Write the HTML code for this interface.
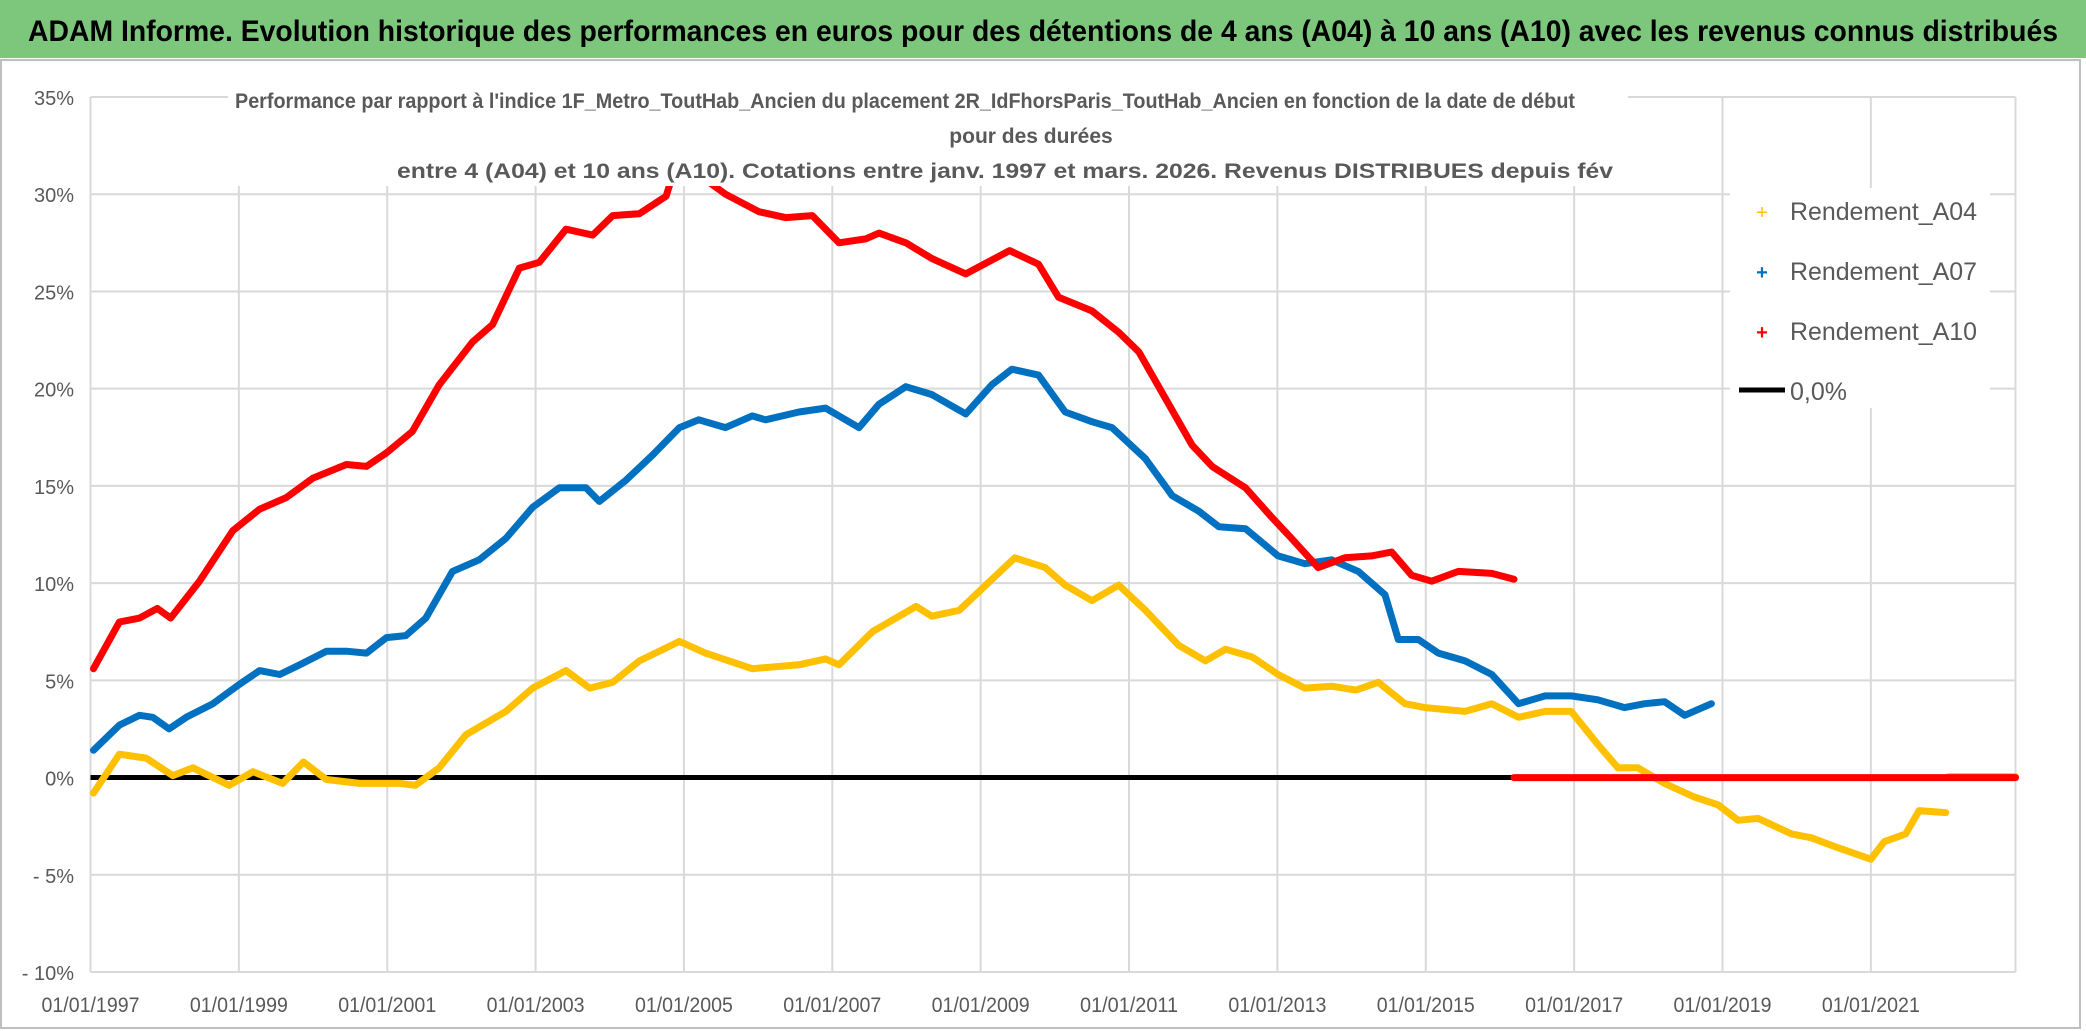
<!DOCTYPE html>
<html><head><meta charset="utf-8"><style>
html,body{margin:0;padding:0;background:#fff;}
svg{display:block;font-family:"Liberation Sans",sans-serif;}
</style></head><body>
<svg id="chart" width="2086" height="1031" viewBox="0 0 2086 1031">
<rect x="0" y="0" width="2086" height="1031" fill="#fff"/>
<rect x="1" y="60" width="2079" height="968" fill="none" stroke="#bfbfbf" stroke-width="2"/>
<rect x="0" y="0" width="2086" height="58" fill="#7dc77d"/>
<text x="1043" y="41" text-anchor="middle" font-size="30" font-weight="bold" fill="#000" textLength="2030" lengthAdjust="spacingAndGlyphs">ADAM Informe. Evolution historique des performances en euros pour des détentions de 4 ans (A04) à 10 ans (A10) avec les revenus connus distribués</text>
<g id="grid"></g>
<g id="series"></g>
<rect x="228" y="78" width="1400" height="108" fill="#fff"/>
<g fill="#595959" font-size="21" font-weight="bold" text-anchor="middle">
<text x="905" y="108" textLength="1340" lengthAdjust="spacingAndGlyphs">Performance par rapport à l'indice 1F_Metro_ToutHab_Ancien  du placement 2R_IdFhorsParis_ToutHab_Ancien en fonction de la date de début</text>
<text x="1031" y="143">pour des durées</text>
<text x="1005" y="178" textLength="1216" lengthAdjust="spacingAndGlyphs">entre 4 (A04) et 10 ans (A10). Cotations entre janv. 1997 et mars. 2026. Revenus DISTRIBUES depuis fév</text>
</g>
<g id="axes"></g>
<g font-size="25" fill="#595959">
<rect x="1730" y="188" width="260" height="220" fill="#fff"/>
<g><text x="1762" y="219" fill="#ffc000" font-size="20" text-anchor="middle">+</text><text x="1790" y="220" textLength="187" lengthAdjust="spacingAndGlyphs">Rendement_A04</text></g>
<g><text x="1762" y="279" fill="#0070c0" font-size="20" font-weight="bold" text-anchor="middle">+</text><text x="1790" y="280" textLength="187" lengthAdjust="spacingAndGlyphs">Rendement_A07</text></g>
<g><text x="1762" y="339" fill="#ff0000" font-size="20" font-weight="bold" text-anchor="middle">+</text><text x="1790" y="340" textLength="187" lengthAdjust="spacingAndGlyphs">Rendement_A10</text></g>
<g><line x1="1739" y1="390" x2="1785" y2="390" stroke="#000" stroke-width="5"/><text x="1790" y="400">0,0%</text></g>
</g>
</svg>
<script>
const yTicks = [35, 30, 25, 20, 15, 10, 5, 0, -5, -10];
const yTickLabels = ["35%", "30%", "25%", "20%", "15%", "10%", "5%", "0%", "- 5%", "- 10%"];
const xTicks = [1997, 1999, 2001, 2003, 2005, 2007, 2009, 2011, 2013, 2015, 2017, 2019, 2021];
const xTickLabels = ["01/01/1997","01/01/1999","01/01/2001","01/01/2003","01/01/2005","01/01/2007","01/01/2009","01/01/2011","01/01/2013","01/01/2015","01/01/2017","01/01/2019","01/01/2021"];
const xDomain = [1997, 2022.95];
const yDomain = [-10, 35];

const a04Dates = [1997.04,1997.39,1997.75,1998.11,1998.38,1998.87,1999.19,1999.59,1999.87,2000.18,2000.63,2001.17,2001.38,2001.70,2002.06,2002.60,2002.96,2003.41,2003.73,2004.04,2004.40,2004.94,2005.29,2005.92,2006.55,2006.91,2007.09,2007.54,2008.13,2008.34,2008.71,2009.07,2009.46,2009.87,2010.14,2010.50,2010.86,2011.22,2011.67,2012.03,2012.30,2012.66,2013.01,2013.37,2013.73,2014.06,2014.36,2014.72,2014.99,2015.53,2015.89,2016.25,2016.61,2016.96,2017.32,2017.59,2017.86,2018.22,2018.62,2018.94,2019.21,2019.48,2019.93,2020.20,2020.55,2021.00,2021.18,2021.47,2021.65,2022.01];
const a04Values = [-0.8,1.2,1.0,0.1,0.5,-0.4,0.3,-0.3,0.8,-0.1,-0.3,-0.3,-0.4,0.5,2.2,3.4,4.6,5.5,4.6,4.9,6.0,7.0,6.4,5.6,5.8,6.1,5.8,7.5,8.8,8.3,8.6,9.9,11.3,10.8,9.9,9.1,9.9,8.6,6.8,6.0,6.6,6.2,5.3,4.6,4.7,4.5,4.9,3.8,3.6,3.4,3.8,3.1,3.4,3.4,1.7,0.5,0.5,-0.3,-1.0,-1.4,-2.2,-2.1,-2.9,-3.1,-3.6,-4.2,-3.3,-2.9,-1.7,-1.8];
const a04TailDates = [2022.05, 2022.95];
const a04TailValues = [0.05, 0.05];

const a07Dates = [1997.04,1997.39,1997.66,1997.84,1998.06,1998.29,1998.65,1999.01,1999.28,1999.55,1999.82,2000.18,2000.45,2000.72,2000.99,2001.25,2001.52,2001.88,2002.24,2002.60,2002.96,2003.32,2003.68,2003.86,2004.22,2004.58,2004.94,2005.20,2005.56,2005.92,2006.10,2006.55,2006.91,2007.36,2007.63,2007.99,2008.34,2008.80,2009.15,2009.42,2009.78,2010.14,2010.50,2010.77,2011.22,2011.58,2011.94,2012.21,2012.57,2013.01,2013.37,2013.73,2014.09,2014.45,2014.63,2014.90,2015.17,2015.53,2015.89,2016.25,2016.61,2016.96,2017.32,2017.68,2017.95,2018.22,2018.49,2018.85];
const a07Values = [1.4,2.7,3.2,3.1,2.5,3.1,3.8,4.8,5.5,5.3,5.8,6.5,6.5,6.4,7.2,7.3,8.2,10.6,11.2,12.3,13.9,14.9,14.9,14.2,15.3,16.6,18.0,18.4,18.0,18.6,18.4,18.8,19.0,18.0,19.2,20.1,19.7,18.7,20.2,21.0,20.7,18.8,18.3,18.0,16.4,14.5,13.7,12.9,12.8,11.4,11.0,11.2,10.6,9.4,7.1,7.1,6.4,6.0,5.3,3.8,4.2,4.2,4.0,3.6,3.8,3.9,3.2,3.8];

const a10Dates = [1997.04,1997.39,1997.66,1997.90,1998.08,1998.47,1998.92,1999.28,1999.64,2000.00,2000.45,2000.72,2000.99,2001.34,2001.70,2002.15,2002.42,2002.78,2003.05,2003.41,2003.77,2004.04,2004.40,2004.76,2004.85,2005.20,2005.56,2006.01,2006.37,2006.73,2007.09,2007.45,2007.63,2007.99,2008.34,2008.80,2009.39,2009.78,2010.05,2010.50,2010.86,2011.13,2011.49,2011.85,2012.12,2012.57,2012.92,2013.19,2013.55,2013.91,2014.27,2014.54,2014.81,2015.08,2015.44,2015.89,2016.19];
const a10Values = [5.6,8.0,8.2,8.7,8.2,10.1,12.7,13.8,14.4,15.4,16.1,16.0,16.7,17.8,20.2,22.4,23.3,26.2,26.5,28.2,27.9,28.9,29.0,29.9,31.0,31.0,30.0,29.1,28.8,28.9,27.5,27.7,28.0,27.5,26.7,25.9,27.1,26.4,24.7,24.0,22.9,21.9,19.5,17.1,16.0,14.9,13.4,12.3,10.8,11.3,11.4,11.6,10.4,10.1,10.6,10.5,10.2];
const a10TailDates = [2016.19, 2022.95];
const a10TailValues = [0, 0];

const NS = "http://www.w3.org/2000/svg";
const X0 = 90.5, X1 = 2015.5, Y0 = 972, Y1 = 97;
function xScale(d){ return X0 + (d - xDomain[0]) / (xDomain[1] - xDomain[0]) * (X1 - X0); }
function yScale(v){ return Y0 - (v - yDomain[0]) / (yDomain[1] - yDomain[0]) * (Y0 - Y1); }
function mk(tag, attrs, parent){ const e = document.createElementNS(NS, tag); for (const k in attrs) e.setAttribute(k, attrs[k]); parent.appendChild(e); return e; }

const grid = document.getElementById('grid');
const axes = document.getElementById('axes');
const series = document.getElementById('series');

yTicks.forEach((t, i) => {
  const y = yScale(t);
  const l = mk('line', {x1: X0, x2: X1, y1: y, y2: y, stroke: '#d9d9d9', 'stroke-width': 2}, grid);
  
  
  const tx = mk('text', {x: 74, y: y + 8, 'text-anchor': 'end', 'font-size': 20, fill: '#595959'}, axes);
  tx.textContent = yTickLabels[i];
  
  
});
xTicks.forEach((t, i) => {
  const x = xScale(t);
  const l = mk('line', {x1: x, x2: x, y1: yScale(yDomain[1]), y2: Y0, stroke: '#d9d9d9', 'stroke-width': 2}, grid);
  
  
  const tx = mk('text', {x: x, y: 1012, 'text-anchor': 'middle', 'font-size': 21, fill: '#595959', textLength: 98, lengthAdjust: 'spacingAndGlyphs'}, axes);
  tx.textContent = xTickLabels[i];
  
  
});
const rb = mk('line', {x1: X1, x2: X1, y1: yScale(yDomain[1]), y2: Y0, stroke: '#d9d9d9', 'stroke-width': 2}, grid);



const zl = mk('line', {x1: X0, x2: X1, y1: yScale(0), y2: yScale(0), stroke: '#000', 'stroke-width': 5}, series);



function drawSeries(dates, values, color, name){
  const pts = dates.map((d, i) => xScale(d).toFixed(1) + ',' + yScale(values[i]).toFixed(1)).join(' ');
  const p = mk('polyline', {points: pts, fill: 'none', stroke: color, 'stroke-width': 7, 'stroke-linejoin': 'round', 'stroke-linecap': 'round'}, series);
  
  
}
drawSeries(a04Dates, a04Values, '#ffc000', 'series-rendement-a04');
drawSeries(a04TailDates, a04TailValues, '#ffc000', 'series-rendement-a04-tail');
drawSeries(a07Dates, a07Values, '#0070c0', 'series-rendement-a07');
drawSeries(a10Dates, a10Values, '#ff0000', 'series-rendement-a10');
drawSeries(a10TailDates, a10TailValues, '#ff0000', 'series-rendement-a10-tail');
</script>
</body></html>
